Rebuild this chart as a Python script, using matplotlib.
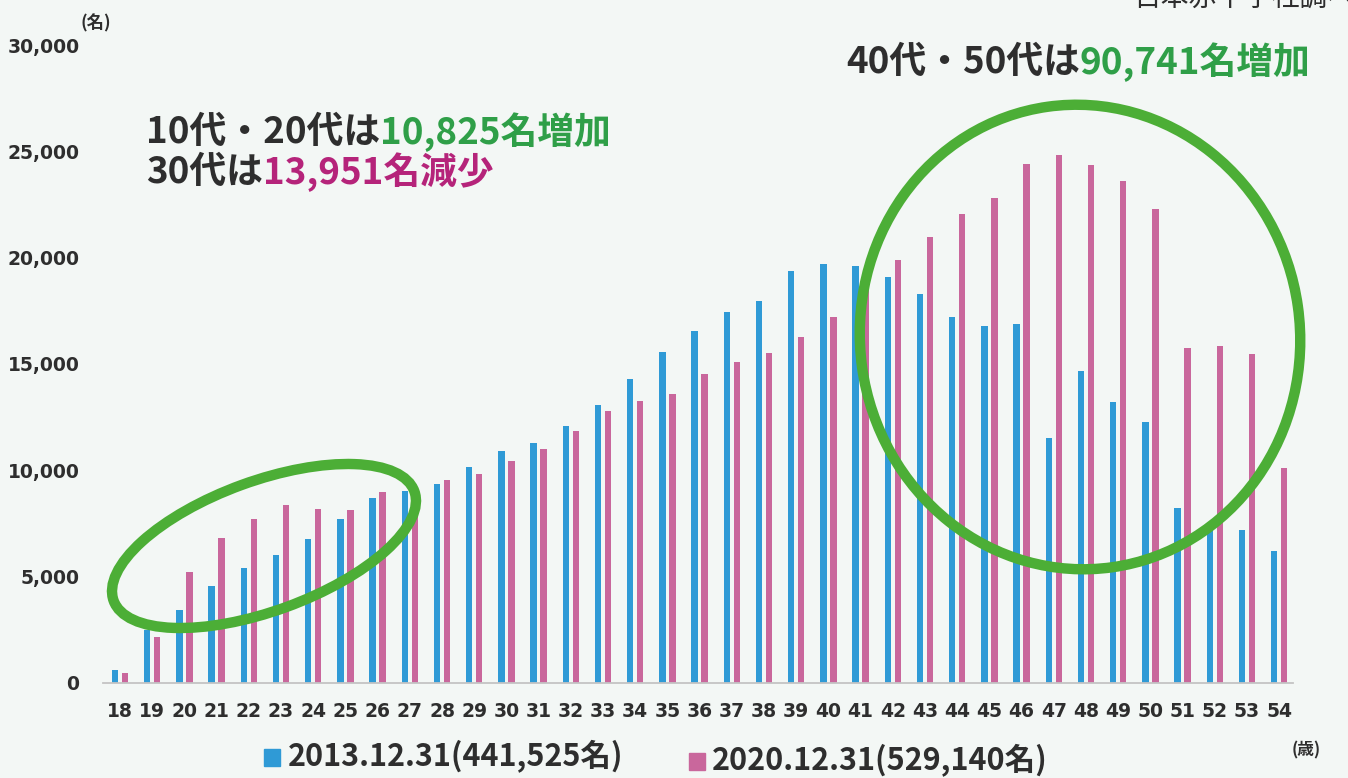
import numpy as np
import matplotlib
matplotlib.use('Agg')
import matplotlib.pyplot as plt
from matplotlib.patches import Ellipse, Rectangle

# 年齢別の人数 (読み取り値)
ages = list(range(18, 55))
donors_2013 = [600, 2500, 3450, 4550, 5400, 6000, 6750, 7700, 8700, 9050,
               9350, 10150, 10900, 11300, 12100, 13050, 14300, 15550, 16550, 17450,
               17950, 19350, 19700, 19600, 19100, 18300, 17200, 16800, 16900, 11500,
               14650, 13200, 12250, 8250, 7300, 7200, 6200]
donors_2020 = [450, 2150, 5200, 6800, 7700, 8350, 8200, 8150, 9000, 8900,
               9550, 9850, 10450, 11000, 11850, 12800, 13250, 13600, 14550, 15100,
               15500, 16250, 17200, 18650, 19900, 20950, 22050, 22800, 24400, 24850,
               24350, 23600, 22300, 15750, 15850, 15450, 10100]
yticks = [0, 5000, 10000, 15000, 20000, 25000, 30000]
label_2013 = '2013.12.31(441,525名)'
label_2020 = '2020.12.31(529,140名)'

W, H = 1348, 778
bg = '#f3f7f5'
blue = '#2f9ad6'
pink = '#c9679c'
green_txt = '#2f9f48'
mag_txt = '#b5247a'
dark = '#2e2e2e'
ring = '#4cae36'
jp = ['Noto Sans CJK JP', 'DejaVu Sans']

fig = plt.figure(figsize=(W / 100, H / 100), dpi=100, facecolor=bg)
ax = fig.add_axes([103 / W, 1 - 683 / H, (1293 - 103) / W, (683 - 45) / H])
ax.set_facecolor(bg)

x = np.arange(len(ages))
ax.bar(x - 0.155, donors_2013, width=0.2, color=blue, zorder=2)
ax.bar(x + 0.155, donors_2020, width=0.2, color=pink, zorder=2)

ax.set_xlim(-0.53, len(ages) - 0.57)
ax.set_ylim(0, 30000)
ax.set_xticks(x)
ax.set_xticklabels([str(a) for a in ages], fontsize=13.5, fontweight='bold',
                   color=dark, family='DejaVu Sans')
ax.set_yticks(yticks)
ax.set_yticklabels([f'{v:,}' for v in yticks], fontsize=13.5, fontweight='bold',
                   color=dark, family='DejaVu Sans')
ax.tick_params(axis='x', length=0, pad=14)
ax.tick_params(axis='y', length=0, pad=17)
for s in ['top', 'right', 'left']:
    ax.spines[s].set_visible(False)
ax.spines['bottom'].set_color('#c4c4c4')
ax.spines['bottom'].set_linewidth(1.3)

# overlay in pixel coordinates for notes, rings and legend
ov = fig.add_axes([0, 0, 1, 1])
ov.set_xlim(0, W)
ov.set_ylim(H, 0)
ov.axis('off')

renderer = fig.canvas.get_renderer()


def colored_line(x0, y0, parts, size):
    for s, c in parts:
        t = ov.text(x0, y0, s, color=c, fontsize=size, fontweight='bold',
                    va='center', ha='left', family=jp)
        x0 += t.get_window_extent(renderer=renderer).width


colored_line(146, 132, [('10代・20代は', dark), ('10,825名増加', green_txt)], 26.5)
colored_line(146, 172, [('30代は', dark), ('13,951名減少', mag_txt)], 26.5)
colored_line(846, 62, [('40代・50代は', dark), ('90,741名増加', green_txt)], 26.5)

ov.add_patch(Ellipse((264, 546), 320, 130, angle=-20, fill=False,
                     edgecolor=ring, linewidth=7.5, zorder=5))
ov.add_patch(Ellipse((1080, 337), 440, 465, angle=-8, fill=False,
                     edgecolor=ring, linewidth=7.5, zorder=5))

ov.text(80, 23, '(名)', fontsize=12.5, fontweight='bold', color=dark,
        va='center', ha='left', family=jp)
ov.text(1292, 750, '(歳)', fontsize=12, fontweight='bold', color=dark,
        va='center', ha='left', family=jp)
ov.text(1133, 13, '日本赤十字社調べ', fontsize=20, color=dark,
        va='bottom', ha='left', family=jp)

# legend
ov.add_patch(Rectangle((264, 749), 16, 17, color=blue))
ov.text(288, 757, label_2013, fontsize=22, fontweight='bold', color=dark,
        va='center', ha='left', family=jp)
ov.add_patch(Rectangle((689, 753), 16, 17, color=pink))
ov.text(712, 761, label_2020, fontsize=22, fontweight='bold', color=dark,
        va='center', ha='left', family=jp)

fig.savefig('out.png', dpi=100, facecolor=bg)
